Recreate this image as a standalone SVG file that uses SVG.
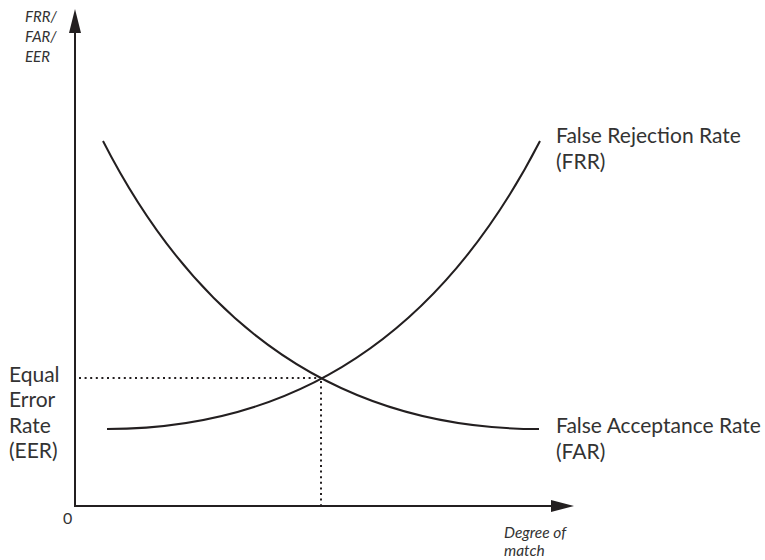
<svg xmlns="http://www.w3.org/2000/svg" width="765" height="560" viewBox="0 0 765 560">
<style>
.ax{stroke:#231f20;stroke-width:2;fill:none}
.cv{stroke:#231f20;stroke-width:2;fill:none}
.dot{stroke:#231f20;stroke-width:2;fill:none;stroke-dasharray:2 3.6}
.lab{font-family:Lato,"Liberation Sans",sans-serif;font-size:21px;fill:#333}
.it{font-family:Lato,"Liberation Sans",sans-serif;font-size:15px;font-style:italic;fill:#333}
</style>
<rect width="765" height="560" fill="#fff"/>
<g id="connectors">
<line class="ax" x1="75" y1="506" x2="75" y2="30"/>
<polygon points="75,9 69,33 81,33" fill="#231f20"/>
<line class="ax" x1="74" y1="506" x2="553" y2="506"/>
<polygon points="574,506 551,500 551,512" fill="#231f20"/>
<path class="dot" d="M79,378 H321"/>
<path class="dot" d="M321,381 V506"/>
</g>
<g id="curve-frr"><path class="cv" d="M107,429 Q392,429 540,141"/></g>
<g id="curve-far"><path class="cv" d="M103,141 Q250,429 539,429"/></g>
<g id="label-y" class="it"><text x="25" y="22">FRR/</text><text x="25" y="42">FAR/</text><text x="25" y="62">EER</text></g>
<g id="label-eer" class="lab"><text x="9" y="382">Equal</text><text x="9" y="407">Error</text><text x="9" y="433">Rate</text><text x="9" y="458">(EER)</text></g>
<g id="label-frr" class="lab"><text x="556" y="143">False Rejection Rate</text><text x="556" y="169">(FRR)</text></g>
<g id="label-far" class="lab"><text x="556" y="433">False Acceptance Rate</text><text x="556" y="459">(FAR)</text></g>
<g id="label-zero"><text x="63" y="524" style="font-family:Lato,'Liberation Sans',sans-serif;font-size:16px;fill:#333">0</text></g>
<g id="label-x" class="it" style="font-size:15.5px"><text x="504" y="538">Degree of</text><text x="504" y="556">match</text></g>
</svg>
